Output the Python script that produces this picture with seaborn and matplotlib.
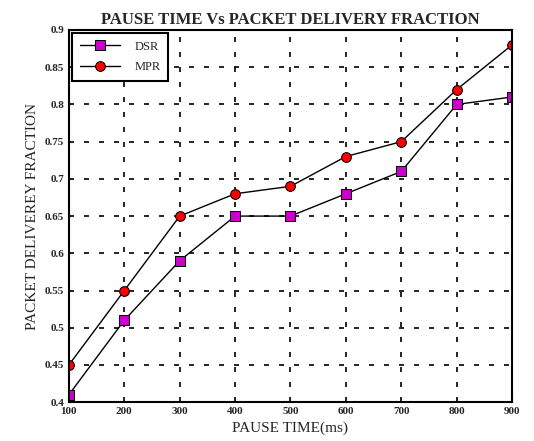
import matplotlib
matplotlib.use("Agg")
import matplotlib.pyplot as plt
import seaborn as sns

pause_time = [100, 200, 300, 400, 500, 600, 700, 800, 900]
dsr = [0.41, 0.51, 0.59, 0.65, 0.65, 0.68, 0.71, 0.80, 0.81]
mpr = [0.45, 0.55, 0.65, 0.68, 0.69, 0.73, 0.75, 0.82, 0.88]
y_ticks = [0.4, 0.45, 0.5, 0.55, 0.6, 0.65, 0.7, 0.75, 0.8, 0.85, 0.9]

if __name__ == "__main__":
    sns.set_style("ticks")
    plt.rcParams["font.family"] = ["Liberation Serif", "DejaVu Serif"]

    fig = plt.figure(figsize=(5.34, 4.41), dpi=100)
    ax = fig.add_axes([0.129, 0.088, 0.83, 0.844])

    sns.lineplot(x=pause_time, y=dsr, ax=ax, color="black", lw=1,
                 marker="s", markersize=7, markerfacecolor="#cc00cc",
                 markeredgecolor="black", label="DSR")
    sns.lineplot(x=pause_time, y=mpr, ax=ax, color="black", lw=1,
                 marker="o", markersize=7, markerfacecolor="red",
                 markeredgecolor="black", label="MPR")

    ax.set_xlim(100, 900)
    ax.set_ylim(0.4, 0.9)
    ax.set_xticks(pause_time)
    ax.set_yticks(y_ticks)
    ax.set_yticklabels([f"{v:g}" for v in y_ticks])
    ax.tick_params(labelsize=8, direction="in", length=3)
    for lab in ax.get_xticklabels() + ax.get_yticklabels():
        lab.set_fontweight("bold")
    ax.grid(True, color="black", linestyle=(0, (3, 6)), linewidth=1.2)
    for s in ax.spines.values():
        s.set_linewidth(1.5)
        s.set_color("black")

    ax.set_title("PAUSE TIME Vs PACKET DELIVERY FRACTION",
                 fontsize=12, fontweight="bold", pad=4)
    ax.set_xlabel("PAUSE TIME(ms)", fontsize=11)
    ax.set_ylabel("PACKET DELIVEREY FRACTION", fontsize=11)

    leg = ax.legend(loc="upper left", fontsize=9, frameon=True,
                    fancybox=False, edgecolor="black", borderaxespad=0.25,
                    handlelength=3.2, labelspacing=0.7, borderpad=0.6,
                    handletextpad=1.2, framealpha=1)
    leg.get_frame().set_linewidth(1.5)

    fig.savefig("out.png", dpi=100)
